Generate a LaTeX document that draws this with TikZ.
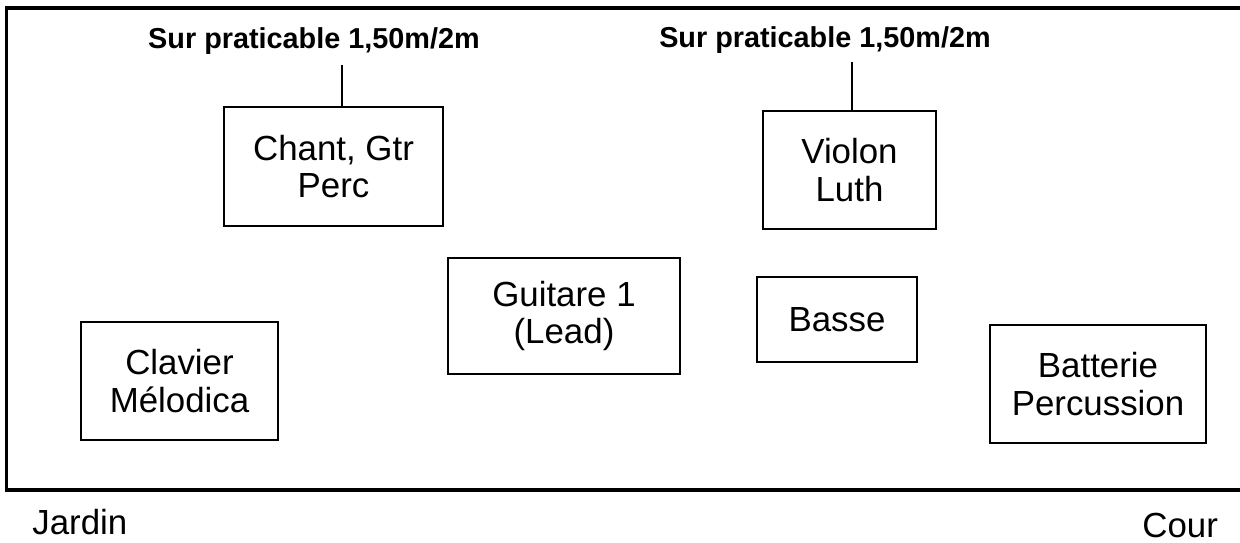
\documentclass[tikz,border=0pt]{standalone}
\usepackage{fontspec}
\setmainfont{Liberation Sans}
\begin{document}
\begin{tikzpicture}[x=0.02cm,y=-0.02cm,
  stagebox/.style={draw, line width=1.2pt, align=center, inner sep=0pt, font=\fontsize{19.84}{21.5}\selectfont},
  platlabel/.style={font=\bfseries\fontsize{16.4}{18}\selectfont, inner sep=0pt, anchor=base},
  sidelabel/.style={font=\fontsize{19.84}{22}\selectfont, inner sep=0pt, anchor=base west},
  link/.style={line width=0.9pt},
  border/.style={line width=1.8pt}]
\useasboundingbox (0,0) rectangle (1240,543);
\draw[border] (1240,8) -- (6.5,8) -- (6.5,490) -- (1240,490);

\node[stagebox, minimum width=4.38cm, minimum height=2.38cm] (chant) at (333.5,166.5) {Chant, Gtr\\Perc};
\node[stagebox, minimum width=3.46cm, minimum height=2.36cm] (violon) at (849.5,170) {Violon\\Luth};
\node[stagebox, minimum width=4.64cm, minimum height=2.32cm] (guitare) at (564,316) {Guitare 1\\(Lead)};
\node[stagebox, minimum width=3.2cm, minimum height=1.7cm] (basse) at (837,319.5) {Basse};
\node[stagebox, minimum width=3.94cm, minimum height=2.36cm] (clavier) at (179.5,381) {Clavier\\Mélodica};
\node[stagebox, minimum width=4.32cm, minimum height=2.36cm] (batterie) at (1098,384) {Batterie\\Percussion};

\node[platlabel] (lab1) at (314,49) {Sur praticable 1,50m/2m};
\node[platlabel] (lab2) at (825,48) {Sur praticable 1,50m/2m};
\coordinate (c1) at (342,65);
\coordinate (c2) at (852,62);
\draw[link] (c1) -- (c1 |- chant.north);
\draw[link] (c2) -- (c2 |- violon.north);

\node[sidelabel] (jardin) at (32,534) {Jardin};
\node[sidelabel] (cour) at (1142,537) {Cour};
\end{tikzpicture}
\end{document}
